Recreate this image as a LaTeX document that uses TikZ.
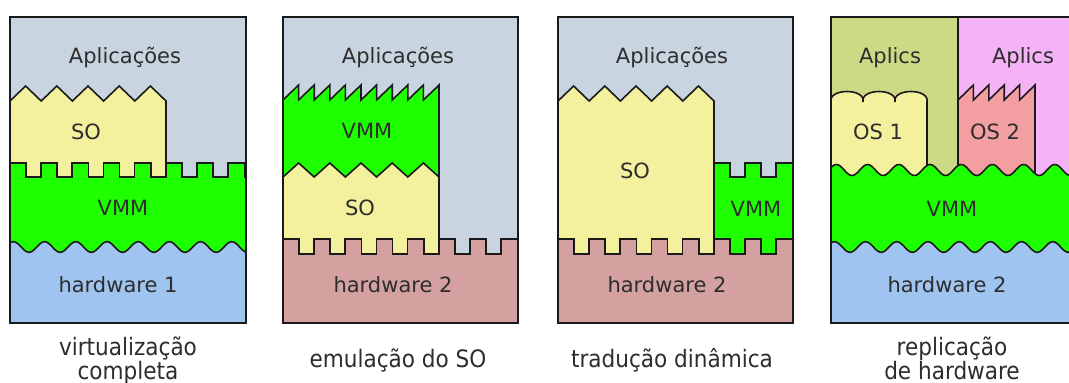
\documentclass[tikz,border=0pt]{standalone}
\usepackage{fontspec}
\setmainfont{DejaVu Sans}
\newfontfamily\capfont{DejaVu Sans Condensed}
\definecolor{appgray}{RGB}{200,212,223}
\definecolor{soyellow}{RGB}{243,240,158}
\definecolor{vmmgreen}{RGB}{30,255,0}
\definecolor{hwblue}{RGB}{160,196,240}
\definecolor{hwrose}{RGB}{212,160,160}
\definecolor{apolive}{RGB}{205,217,133}
\definecolor{appink}{RGB}{245,178,247}
\definecolor{ossalmon}{RGB}{243,158,160}
\definecolor{edge}{RGB}{26,26,26}
\definecolor{ink}{RGB}{45,45,45}
\tikzset{
  layer/.style={draw=edge, line width=1.6pt, line join=miter},
  lbl/.style={font=\fontsize{21}{25}\selectfont, text=ink, anchor=base, inner sep=0pt},
  caption/.style={font=\capfont\fontsize{24}{28}\selectfont, text=ink, anchor=base, inner sep=0pt},
}
\begin{document}
\begin{tikzpicture}[x=1pt, y=-1pt]
\useasboundingbox (0,0) rectangle (1069,383);
\fill[white] (0,0) rectangle (1069,383);

% ---------- full virtualization ----------
\begin{scope}
  \clip (10,17) rectangle (246,323);
  \fill[appgray] (10,17) rectangle (246,323);
  \filldraw[layer, fill=soyellow] (5,101) -- (10,101)
    \foreach \k in {0,...,4} { -- ({10+15.6+31.2*\k},86) -- ({10+31.2*(\k+1)},101) }
    -- (166,200) -- (5,200) -- cycle;
  \filldraw[layer, fill=vmmgreen] (5,163)
    \foreach \k in {0,...,7} { -- ({26+31.2*\k},163) -- ({26+31.2*\k},177) -- ({41+31.2*\k},177) -- ({41+31.2*\k},163) }
    -- (252,163) -- (252,265) -- (5,265) -- cycle;
  \filldraw[layer, fill=hwblue] plot[domain=5:252, samples=160, smooth] (\x,{247+5.3*cos(((\x-29)/31.2)*360)})
    -- (252,330) -- (5,330) -- cycle;
\end{scope}
\draw[layer] (10,17) rectangle (246,323);
\node[lbl] (app1) at (125,63) {Aplicações};
\node[lbl] (so1) at (86,139) {SO};
\node[lbl] (vmm1) at (123,215) {VMM};
\node[lbl] (hw1) at (118,292) {hardware 1};

% ---------- OS emulation ----------
\begin{scope}
  \clip (283,17) rectangle (518,323);
  \fill[appgray] (283,17) rectangle (518,323);
  \filldraw[layer, fill=soyellow] (278,150) rectangle (439,265);
  \filldraw[layer, fill=vmmgreen] (278,100) -- (283,100)
    \foreach \k in {0,...,9} { -- ({283+15.6*(\k+1)},85) -- ({283+15.6*(\k+1)},100) }
    -- (439,177)
    \foreach \k in {4,...,0} { -- ({283+15.6+31.2*\k},163) -- ({283+31.2*\k},177) }
    -- (278,177) -- cycle;
  \filldraw[layer, fill=hwrose] (278,239)
    \foreach \k in {0,...,6} { -- ({299+31.2*\k},239) -- ({299+31.2*\k},254) -- ({314+31.2*\k},254) -- ({314+31.2*\k},239) }
    -- (525,239) -- (525,330) -- (278,330) -- cycle;
\end{scope}
\draw[layer] (283,17) rectangle (518,323);
\node[lbl] (app2) at (398,63) {Aplicações};
\node[lbl] (vmm2) at (367,138) {VMM};
\node[lbl] (so2) at (360,215) {SO};
\node[lbl] (hw2) at (393,292) {hardware 2};

% ---------- dynamic translation ----------
\begin{scope}
  \clip (558,17) rectangle (793,323);
  \fill[appgray] (558,17) rectangle (793,323);
  \filldraw[layer, fill=soyellow] (553,101) -- (558,101)
    \foreach \k in {0,...,4} { -- ({558+15.6+31.2*\k},86) -- ({558+31.2*(\k+1)},101) }
    -- (714,265) -- (553,265) -- cycle;
  \filldraw[layer, fill=vmmgreen] (714,163)
    \foreach \k in {5,6} { -- ({574+31.2*\k},163) -- ({574+31.2*\k},177) -- ({589+31.2*\k},177) -- ({589+31.2*\k},163) }
    -- (798,163) -- (798,265) -- (714,265) -- cycle;
  \filldraw[layer, fill=hwrose] (553,239)
    \foreach \k in {0,...,6} { -- ({574+31.2*\k},239) -- ({574+31.2*\k},254) -- ({589+31.2*\k},254) -- ({589+31.2*\k},239) }
    -- (798,239) -- (798,330) -- (553,330) -- cycle;
\end{scope}
\draw[layer] (558,17) rectangle (793,323);
\node[lbl] (app3) at (672,63) {Aplicações};
\node[lbl] (so3) at (635,178) {SO};
\node[lbl] (vmm3) at (756,216) {VMM};
\node[lbl] (hw3) at (667,292) {hardware 2};

% ---------- hardware replication ----------
\begin{scope}
  \clip (831,17) rectangle (1069,323);
  \fill[apolive] (831,17) rectangle (958,200);
  \fill[appink] (958,17) rectangle (1075,200);
  \draw[layer] (958,10) -- (958,200);
  \filldraw[layer, fill=soyellow] (826,102) -- (831,102)
    \foreach \k in {0,1,2} { .. controls ({831+32*\k-3},88) and ({831+32*(\k+1)+3},88) .. ({831+32*(\k+1)},102) }
    -- (927,200) -- (826,200) -- cycle;
  \filldraw[layer, fill=ossalmon] (958,100)
    \foreach \k in {0,...,4} { -- ({958+15.4*(\k+1)},85) -- ({958+15.4*(\k+1)},100) }
    -- (1035,200) -- (958,200) -- cycle;
  \filldraw[layer, fill=vmmgreen] plot[domain=826:1075, samples=160, smooth] (\x,{170+5.5*cos(((\x-852)/31.2)*360)})
    -- (1075,265) -- (826,265) -- cycle;
  \filldraw[layer, fill=hwblue] plot[domain=826:1075, samples=160, smooth] (\x,{247+5.3*cos(((\x-850)/31.2)*360)})
    -- (1075,330) -- (826,330) -- cycle;
\end{scope}
\draw[layer] (1072,17) -- (831,17) -- (831,323) -- (1072,323);
\node[lbl] (app4a) at (890,63) {Aplics};
\node[lbl] (app4b) at (1023,63) {Aplics};
\node[lbl] (os41) at (878,139) {OS 1};
\node[lbl] (os42) at (995,139) {OS 2};
\node[lbl] (vmm4) at (952,216) {VMM};
\node[lbl] (hw4) at (947,292) {hardware 2};

% ---------- captions ----------
\node[caption] (cap1a) at (128,355) {virtualização};
\node[caption] (cap1b) at (128,379) {completa};
\node[caption] (cap2) at (398,367) {emulação do SO};
\node[caption] (cap3) at (672,367) {tradução dinâmica};
\node[caption] (cap4a) at (952,355) {replicação};
\node[caption] (cap4b) at (952,379) {de hardware};
\end{tikzpicture}
\end{document}
